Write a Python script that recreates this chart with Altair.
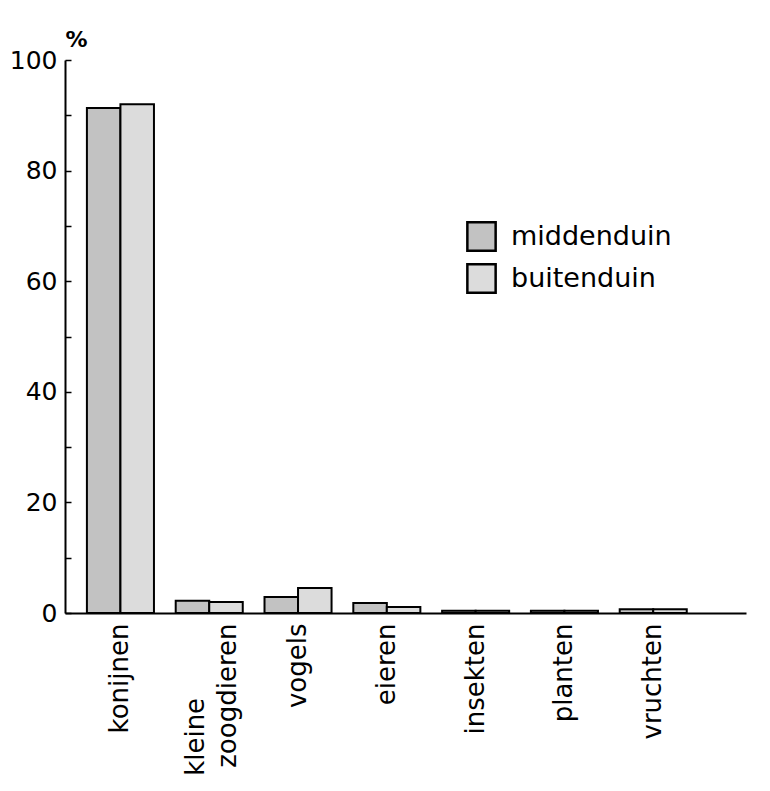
import altair as alt
import pandas as pd

categories = ["konijnen", "kleine zoogdieren", "vogels", "eieren", "insekten", "planten", "vruchten"]
series = ["middenduin", "buitenduin"]
middenduin = [91.3, 2.2, 2.9, 1.8, 0.4, 0.4, 0.7]
buitenduin = [92.0, 2.0, 4.5, 1.1, 0.4, 0.4, 0.7]
y_ticks = [0, 10, 20, 30, 40, 50, 60, 70, 80, 90, 100]

rows = []
for c, m, b in zip(categories, middenduin, buitenduin):
    rows.append({"categorie": c, "reeks": "middenduin", "waarde": m})
    rows.append({"categorie": c, "reeks": "buitenduin", "waarde": b})
df = pd.DataFrame(rows)

FONT = "DejaVu Sans"
W, H = 681, 553
NB = "\u00a0" * 9 + "\u200b"
label_expr = (
    "datum.value == 'kleine zoogdieren' ? ['kleine" + NB + "', 'zoogdieren'] : datum.label"
)

xscale = alt.Scale(paddingInner=0.245, paddingOuter=0.457, align=0.27)
xaxis = alt.Axis(
    labelAngle=-90, labelFont=FONT, labelFontSize=26, labelColor="black",
    labelPadding=10, ticks=False, domainColor="black", domainWidth=2,
    labelExpr=label_expr, labelLineHeight=32, labelLimit=300, title=None,
    labelOffset={"condition": {"test": "datum.value == 'kleine zoogdieren'", "value": -13}, "value": 0},
)
xoff = alt.XOffset("reeks:N", sort=series, scale=alt.Scale(paddingInner=0, paddingOuter=0))
yscale = alt.Scale(domain=[0, 100], nice=False)

bars = alt.Chart(df).mark_bar(stroke="black", strokeWidth=2).encode(
    x=alt.X("categorie:N", sort=categories, scale=xscale, axis=xaxis),
    xOffset=xoff,
    y=alt.Y(
        "waarde:Q", scale=yscale,
        axis=alt.Axis(
            values=y_ticks, labelExpr="datum.value % 20 == 0 ? datum.label : ''",
            ticks=False, grid=False, labelFont=FONT, labelFontSize=25, labelColor="black",
            labelPadding=8, domainColor="black", domainWidth=2,
            title="%", titleAngle=0, titleX=11, titleY=-14, titleAlign="center",
            titleBaseline="alphabetic", titleFont=FONT, titleFontSize=22, titleFontWeight="bold",
            titleColor="black",
        ),
    ),
    color=alt.Color(
        "reeks:N", sort=series,
        scale=alt.Scale(domain=series, range=["#c2c2c2", "#dcdcdc"]),
        legend=alt.Legend(
            title=None, orient="none", legendX=401, legendY=161,
            symbolType="square", symbolSize=800, symbolStrokeColor="black",
            symbolStrokeWidth=2.5, labelFont=FONT, labelFontSize=27, labelColor="black",
            labelOffset=14, rowPadding=3, labelLimit=400,
        ),
    ),
)

inner_ticks = alt.Chart(df).mark_bar(opacity=0).encode(
    x=alt.X("categorie:N", sort=categories, scale=xscale, axis=xaxis),
    xOffset=xoff,
    y=alt.Y(
        "waarde:Q", scale=yscale,
        axis=alt.Axis(
            orient="right", offset=-W, values=y_ticks, labels=False, domain=False,
            grid=False, ticks=True, tickSize=6, tickColor="black", tickWidth=1.5, title=None,
        ),
    ),
)

chart = (
    alt.layer(bars, inner_ticks)
    .resolve_axis(y="independent")
    .properties(
        width=W, height=H,
        autosize=alt.AutoSizeParams(type="none"),
        padding={"left": 57, "top": 52, "right": 10, "bottom": 175},
        background="white",
    )
    .configure_view(stroke=None)
)

chart.save("out.html", embed_options={"renderer": "svg", "actions": False})
